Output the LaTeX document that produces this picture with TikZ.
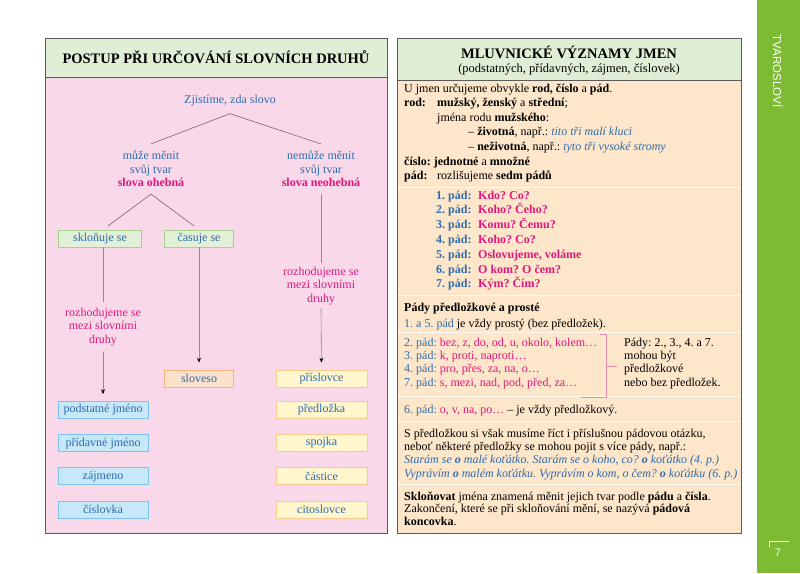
\documentclass[tikz,border=0pt]{standalone}
\usepackage{fontspec}
\setmainfont{Liberation Serif}
\newfontfamily\sidefont{Liberation Sans}
\usepackage{xcolor}
\usetikzlibrary{positioning, arrows.meta, calc}
\frenchspacing

\definecolor{framegray}{HTML}{5A5A5A}
\definecolor{headgreen}{HTML}{E0EED5}
\definecolor{pinkbg}{HTML}{F9D8EA}
\definecolor{peachbg}{HTML}{FDE6C9}
\definecolor{sidegreen}{HTML}{7CBB32}
\definecolor{tblue}{HTML}{2D6CAD}
\definecolor{tmag}{HTML}{E0177E}
\definecolor{treeline}{HTML}{7E6078}
\definecolor{dropgray}{HTML}{8C8C8C}
\definecolor{brk}{HTML}{E98DB3}
\definecolor{grfill}{HTML}{E2F0D8}
\definecolor{grdraw}{HTML}{A8D08D}
\definecolor{orfill}{HTML}{FCE2CA}
\definecolor{ordraw}{HTML}{F5B27F}
\definecolor{blfill}{HTML}{C6E8F8}
\definecolor{bldraw}{HTML}{7DC3EC}
\definecolor{yefill}{HTML}{FFF6CD}
\definecolor{yedraw}{HTML}{F7CB8D}

\begin{document}
\begin{tikzpicture}[x=1pt, y=-1pt, >={Stealth[length=5pt, width=4pt, color=black]}, node distance=15.5pt,
  tree/.style={font=\fontsize{12}{13.5}\selectfont, text=tblue, align=center, inner xsep=0pt, inner ysep=7pt},
  wbox/.style={draw, line width=0.6pt, minimum height=17pt, inner sep=0pt, text=tblue, font=\fontsize{12}{14}\selectfont},
  grbox/.style={wbox, fill=grfill, draw=grdraw},
  orbox/.style={wbox, fill=orfill, draw=ordraw, minimum width=69pt},
  blbox/.style={wbox, fill=blfill, draw=bldraw, minimum width=90pt},
  yebox/.style={wbox, fill=yefill, draw=yedraw, minimum width=91pt},
  para/.style={anchor=north west, align=left, inner sep=0pt},
  seprule/.style={white!75!peachbg, line width=0.8pt},
  tline/.style={treeline, line width=0.6pt},
  drop/.style={dropgray, line width=0.6pt}]
  \useasboundingbox (0,0) rectangle (800,573);

  % side strip
  \fill[sidegreen] (757,0) rectangle (800,573);
  \node[rotate=-90, text=white, font=\sidefont\fontsize{11.5}{13}\selectfont] (side) at (778,71) {TVAROSLOVÍ};
  \node[text=white, font=\sidefont\fontsize{11}{13}\selectfont] (pg) at (778,553) {7};
  \draw[white, line width=0.5pt] (769,547) -- (769,541) -- (789,541);

  % left panel
  \filldraw[fill=pinkbg, draw=framegray, line width=0.8pt] (45,38) rectangle (387,533);
  \filldraw[fill=headgreen, draw=framegray, line width=0.8pt] (45,38) rectangle (387,77);
  \node[font=\bfseries\fontsize{14.5}{16}\selectfont] (lhead) at (216,57.5) {POSTUP PŘI URČOVÁNÍ SLOVNÍCH DRUHŮ};

  \node[tree] (zj) at (230,101) {Zjistíme, zda slovo};
  \node[tree] (oh) at (151,169) {může měnit\\svůj tvar\\\textcolor{tmag}{\textbf{slova ohebná}}};
  \node[tree] (neoh) at (321,169) {nemůže měnit\\svůj tvar\\\textcolor{tmag}{\textbf{slova neohebná}}};

  \node[grbox, minimum width=83pt] (sk) at (100,238.5) {skloňuje se};
  \node[grbox, minimum width=69pt] (cas) at (199,238.5) {časuje se};
  \node[tree, text=tmag, inner ysep=6pt] (rz1) at (103,327) {rozhodujeme se\\mezi slovními\\druhy};
  \node[tree, text=tmag, inner ysep=3.5pt] (rz2) at (321,286) {rozhodujeme se\\mezi slovními\\druhy};
  \node[orbox] (slov) at (199,378.5) {sloveso};
  \node[yebox] (pris) at (321.5,378.5) {příslovce};

  \node[blbox] (pj) at (103,410) {podstatné jméno};
  \node[blbox] (prj) [below=of pj] {přídavné jméno};
  \node[blbox] (zaj) [below=of prj] {zájmeno};
  \node[blbox] (cisl) [below=of zaj] {číslovka};
  \node[yebox] (pred) at (pj -| pris) {předložka};
  \node[yebox] (spoj) at (prj -| pris) {spojka};
  \node[yebox] (cast) at (zaj -| pris) {částice};
  \node[yebox] (cito) at (cisl -| pris) {citoslovce};

  \draw[tline] (zj.south) -- (oh.north);
  \draw[tline] (zj.south) -- (neoh.north);
  \draw[tline, shorten >=6pt] (oh.south) -- (sk.north -| rz1.north);
  \draw[tline, shorten >=6pt] (oh.south) -- (cas.north);
  \draw[drop] (sk.south -| rz1.north) -- (rz1.north);
  \draw[drop, ->, shorten >=7pt] (rz1.south) -- (pj.north);
  \draw[drop, ->, shorten >=7pt] (cas.south) -- (slov.north);
  \draw[drop] (neoh.south) -- (rz2.north);
  \draw[drop, ->, shorten >=7pt] (rz2.south) -- (pris.north);

  % right panel
  \filldraw[fill=peachbg, draw=framegray, line width=0.8pt] (397,38) rectangle (741,533);
  \filldraw[fill=headgreen, draw=framegray, line width=0.8pt] (397,38) rectangle (741,80);
  \node[font=\bfseries\fontsize{14.5}{16}\selectfont] (rhead) at (569,52) {MLUVNICKÉ VÝZNAMY JMEN};
  \node[font=\fontsize{12.5}{14}\selectfont] (rsub) at (569,69) {(podstatných, přídavných, zájmen, číslovek)};

  \foreach \yy in {187,295,332,396,421,484}
    \draw[seprule] (398,\yy) -- (740,\yy);

  \node[para, font=\fontsize{12}{14.6}\selectfont] (intro) at (404,83.5) {U jmen určujeme obvykle \textbf{rod, číslo} a \textbf{pád}.\\
    \makebox[33pt][l]{\textbf{rod:}}\textbf{mužský, ženský} a \textbf{střední};\\
    \hspace*{33pt}jména rodu \textbf{mužského}:\\
    \hspace*{64pt}– \textbf{životná}, např.: \textcolor{tblue}{\itshape tito tři malí kluci}\\
    \hspace*{64pt}– \textbf{neživotná}, např.: \textcolor{tblue}{\itshape tyto tři vysoké stromy}\\
    \textbf{číslo: jednotné} a \textbf{množné}\\
    \makebox[33pt][l]{\textbf{pád:}}rozlišujeme \textbf{sedm pádů}};

  \node[para, font=\bfseries\fontsize{12}{14.8}\selectfont] (pady) at (436,190.5) {\makebox[42pt][l]{\textcolor{tblue}{1. pád:}}\textcolor{tmag}{Kdo? Co?}\\
    \makebox[42pt][l]{\textcolor{tblue}{2. pád:}}\textcolor{tmag}{Koho? Čeho?}\\
    \makebox[42pt][l]{\textcolor{tblue}{3. pád:}}\textcolor{tmag}{Komu? Čemu?}\\
    \makebox[42pt][l]{\textcolor{tblue}{4. pád:}}\textcolor{tmag}{Koho? Co?}\\
    \makebox[42pt][l]{\textcolor{tblue}{5. pád:}}\textcolor{tmag}{Oslovujeme, voláme}\\
    \makebox[42pt][l]{\textcolor{tblue}{6. pád:}}\textcolor{tmag}{O kom? O čem?}\\
    \makebox[42pt][l]{\textcolor{tblue}{7. pád:}}\textcolor{tmag}{Kým? Čím?}};

  \node[para, font=\bfseries\fontsize{12}{14}\selectfont] (predpr) at (404,302.5) {Pády předložkové a prosté};
  \node[para, font=\fontsize{12}{14}\selectfont] (prost) at (404,318.5) {\textcolor{tblue}{1. a 5. pád} je vždy prostý (bez předložek).};
  \node[para, font=\fontsize{12}{13.4}\selectfont] (predl) at (404,337.5) {\textcolor{tblue}{2. pád:} \textcolor{tmag}{bez, z, do, od, u, okolo, kolem…}\\
    \textcolor{tblue}{3. pád:} \textcolor{tmag}{k, proti, naproti…}\\
    \textcolor{tblue}{4. pád:} \textcolor{tmag}{pro, přes, za, na, o…}\\
    \textcolor{tblue}{7. pád:} \textcolor{tmag}{s, mezi, nad, pod, před, za…}};
  \node[para, font=\fontsize{12}{13.4}\selectfont] (pozn) at (624,337.5) {Pády: 2., 3., 4. a 7.\\mohou být\\předložkové\\nebo bez předložek.};
  \draw[brk, line width=0.7pt] (600,334) -- (606,334) -- (606,397) -- (581,397);
  \draw[brk, line width=0.7pt] (606,366) -- (617,366);

  \node[para, font=\fontsize{12}{14}\selectfont] (sest) at (404,404.5) {\textcolor{tblue}{6. pád:} \textcolor{tmag}{o, v, na, po…} – je vždy předložkový.};
  \node[para, font=\fontsize{12}{13.4}\selectfont] (otaz) at (404,428.5) {S předložkou si však musíme říct i příslušnou pádovou otázku,\\
    neboť některé předložky se mohou pojit s více pády, např.:\\
    \textcolor{tblue}{\itshape Starám se \textbf{o} malé koťátko. Starám se o koho, co? \textbf{o} koťátko (4.~p.)}\\
    \textcolor{tblue}{\itshape Vyprávím \textbf{o} malém koťátku. Vyprávím o kom, o čem? \textbf{o} koťátku (6.~p.)}};
  \node[para, font=\fontsize{12}{12.8}\selectfont] (sklon) at (404,491.5) {\textbf{Skloňovat} jména znamená měnit jejich tvar podle \textbf{pádu} a \textbf{čísla}.\\
    Zakončení, které se při skloňování mění, se nazývá \textbf{pádová}\\
    \textbf{koncovka}.};
\end{tikzpicture}
\end{document}
